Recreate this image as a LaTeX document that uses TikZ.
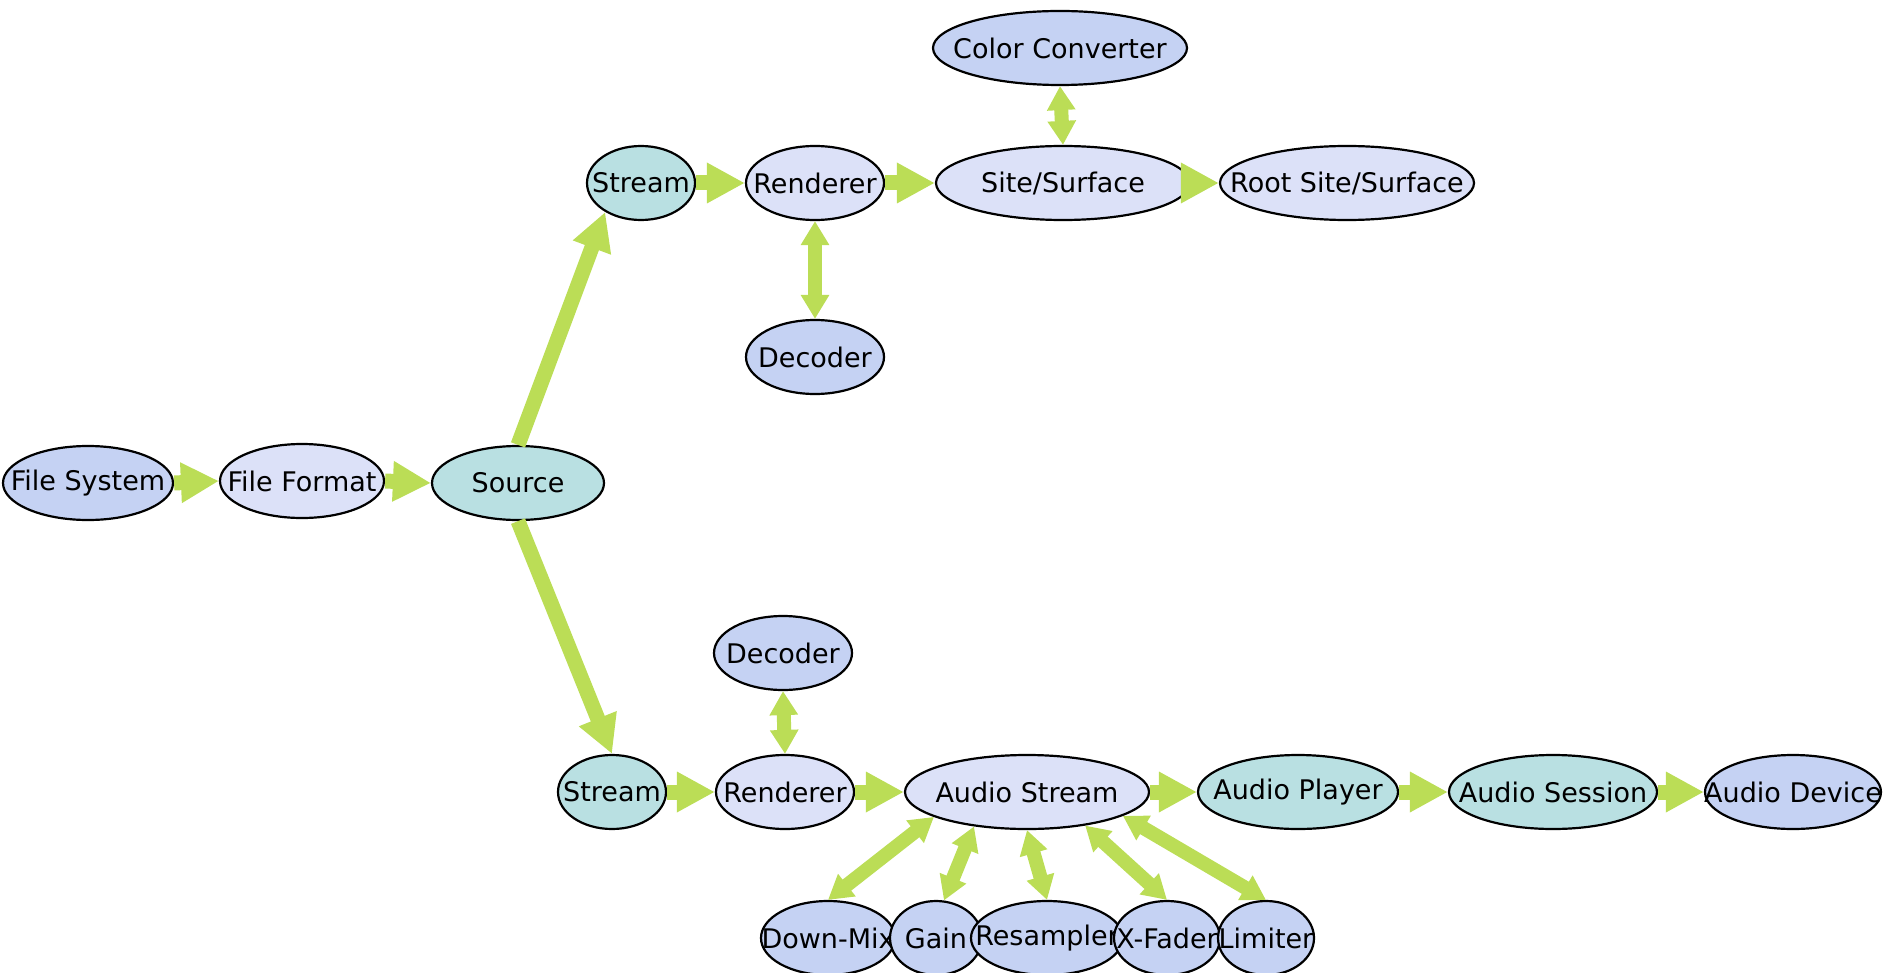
\documentclass[tikz,border=0pt]{standalone}
\usepackage{fontspec}
\setmainfont{DejaVu Sans}
\usetikzlibrary{arrows.meta,shapes.geometric}
\definecolor{nblue}{RGB}{197,210,243}
\definecolor{nlav}{RGB}{220,225,248}
\definecolor{nteal}{RGB}{185,224,226}
\definecolor{egreen}{RGB}{187,221,86}
\newcommand{\ctext}[1]{\makebox[0pt][c]{#1}}
\begin{document}
\begin{tikzpicture}[x=0.5pt,y=-0.5pt,
  gnode/.style={ellipse, draw=black, line width=1.1pt, inner sep=0pt,
    minimum height=37pt, font=\fontsize{13.5}{16}\selectfont},
  bluenode/.style={gnode, fill=nblue},
  lavnode/.style={gnode, fill=nlav},
  tealnode/.style={gnode, fill=nteal},
  edge/.style={draw=egreen, line width=7.5pt, -{Triangle[length=19pt,width=19pt]}},
  dedge/.style={draw=egreen, line width=7pt,
    {Triangle[length=12pt,width=13.5pt]}-{Triangle[length=12pt,width=13.5pt]}}]
\useasboundingbox (0,0) rectangle (1883,973);
% nodes
\node[bluenode, minimum width=85pt] (fs) at (88,483) {\ctext{File System}};
\node[lavnode, minimum width=82pt] (ff) at (302,481) {\ctext{File Format}};
\node[tealnode, minimum width=86pt] (src) at (518,483) {\ctext{Source}};
\node[tealnode, minimum width=54pt] (st1) at (641,183) {\ctext{Stream}};
\node[lavnode, minimum width=69pt] (r1) at (815,183) {\ctext{Renderer}};
\node[lavnode, minimum width=127pt] (ss) at (1063,183) {\ctext{Site/Surface}};
\node[lavnode, minimum width=127pt] (rs) at (1347,183) {\ctext{Root Site/Surface}};
\node[bluenode, minimum width=127pt] (cc) at (1060,48) {\ctext{Color Converter}};
\node[bluenode, minimum width=69pt] (d1) at (815,357) {\ctext{Decoder}};
\node[bluenode, minimum width=69pt] (d2) at (783,653) {\ctext{Decoder}};
\node[tealnode, minimum width=54pt] (st2) at (612,792) {\ctext{Stream}};
\node[lavnode, minimum width=69pt] (r2) at (785,792) {\ctext{Renderer}};
\node[lavnode, minimum width=122pt] (as) at (1027,792) {\ctext{Audio Stream}};
\node[tealnode, minimum width=100pt] (ap) at (1298,792) {\ctext{Audio Player}};
\node[tealnode, minimum width=104pt] (ase) at (1553,792) {\ctext{Audio Session}};
\node[bluenode, minimum width=88pt] (ad) at (1793,792) {\ctext{Audio Device}};
\node[bluenode, minimum width=67pt] (dm) at (828,938) {\ctext{Down-Mix}};
\node[bluenode, minimum width=46pt] (g) at (936,938) {\ctext{Gain}};
\node[bluenode, minimum width=76pt] (rsm) at (1047,938) {\ctext{Resampler}};
\node[bluenode, minimum width=53pt] (xf) at (1167,938) {\ctext{X-Fader}};
\node[bluenode, minimum width=48pt] (lim) at (1266,938) {\ctext{Limiter}};
% edges
\draw[edge] (fs.east) -- (ff.west);
\draw[edge] (ff.east) -- (src.west);
\draw[edge] (src.north) -- (st1.219);
\draw[edge] (src.south) -- (st2.north);
\draw[edge] (st1.east) -- (r1.west);
\draw[edge] (r1.east) -- (ss.west);
\draw[edge] (ss.east) -- (rs.west);
\draw[dedge] (cc.south) -- (ss.north);
\draw[dedge] (r1.south) -- (d1.north);
\draw[edge] (st2.east) -- (r2.west);
\draw[dedge] (d2.south) -- (r2.north);
\draw[edge] (r2.east) -- (as.west);
\draw[edge] (as.east) -- (ap.west);
\draw[edge] (ap.east) -- (ase.west);
\draw[edge] (ase.east) -- (ad.west);
\draw[dedge] (as.195) -- (dm.north);
\draw[dedge] (as.213) -- (g.78);
\draw[dedge] (as.south) -- (rsm.north);
\draw[dedge] (as.330) -- (xf.north);
\draw[dedge] (as.346) -- (lim.north);
\end{tikzpicture}
\end{document}
